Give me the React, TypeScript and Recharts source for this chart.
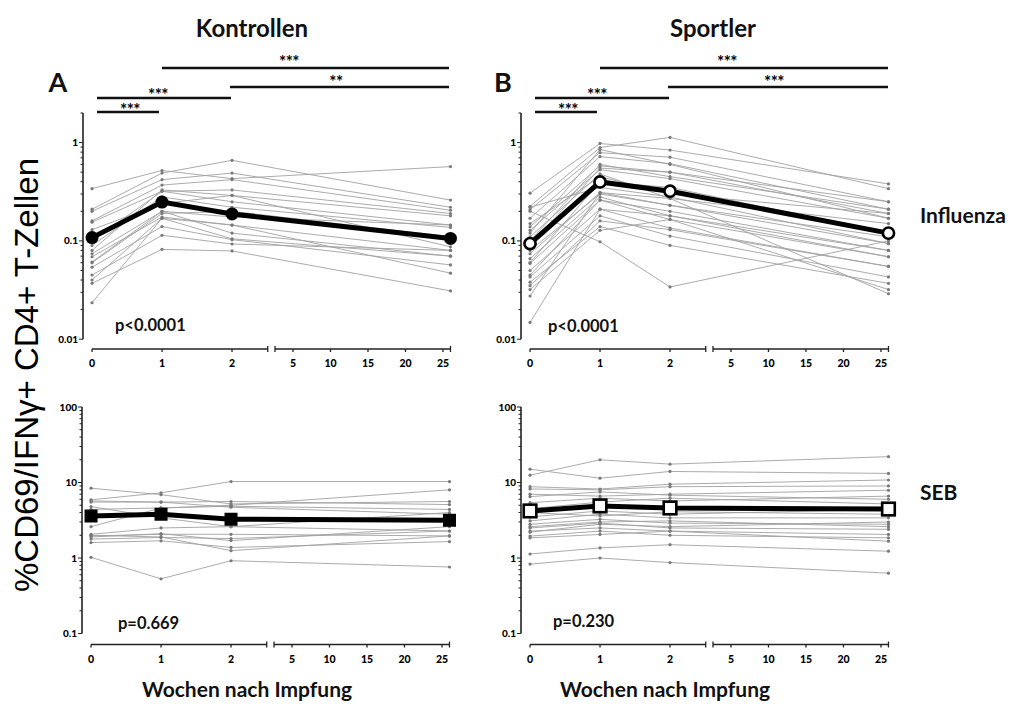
import React from 'react';
import { LineChart, Line, XAxis, YAxis, ReferenceLine, ReferenceArea } from 'recharts';

// weeks after vaccination at which samples were taken
const WEEKS = [0, 1, 2, 26];
const WEEK_TICKS = [0, 1, 2, 5, 10, 15, 20, 25];

// mean curves
const MEAN_CTRL_FLU = [0.108, 0.248, 0.188, 0.106];
const MEAN_ATH_FLU = [0.094, 0.398, 0.32, 0.12];
const MEAN_CTRL_SEB = [3.6, 3.8, 3.26, 3.16];
const MEAN_ATH_SEB = [4.2, 4.9, 4.6, 4.45];

// individual subjects, one row per person: [w0, w1, w2, w26]
const CTRL_FLU = [
  [0.34, 0.52, 0.43, 0.57],
  [0.21, 0.49, 0.66, 0.26],
  [0.2, 0.42, 0.49, 0.22],
  [0.16, 0.37, 0.42, 0.205],
  [0.155, 0.32, 0.33, 0.19],
  [0.13, 0.24, 0.29, 0.18],
  [0.1, 0.32, 0.25, 0.145],
  [0.09, 0.28, 0.22, 0.137],
  [0.08, 0.33, 0.29, 0.087],
  [0.074, 0.2, 0.175, 0.145],
  [0.069, 0.175, 0.145, 0.08],
  [0.061, 0.2, 0.12, 0.07],
  [0.054, 0.14, 0.103, 0.057],
  [0.045, 0.114, 0.093, 0.08],
  [0.04, 0.17, 0.145, 0.047],
  [0.037, 0.082, 0.079, 0.031],
  [0.0235, 0.17, 0.105, 0.07],
  [0.06, 0.19, 0.2, 0.11],
];

const ATH_FLU = [
  [0.306, 0.98, 0.84, 0.38],
  [0.225, 0.89, 1.13, 0.34],
  [0.208, 0.79, 0.71, 0.25],
  [0.17, 0.72, 0.61, 0.21],
  [0.139, 0.58, 0.5, 0.19],
  [0.128, 0.53, 0.43, 0.17],
  [0.11, 0.48, 0.27, 0.15],
  [0.074, 0.31, 0.23, 0.094],
  [0.066, 0.28, 0.18, 0.08],
  [0.059, 0.26, 0.165, 0.069],
  [0.05, 0.21, 0.135, 0.055],
  [0.043, 0.18, 0.112, 0.043],
  [0.038, 0.14, 0.09, 0.037],
  [0.032, 0.128, 0.165, 0.032],
  [0.0275, 0.31, 0.27, 0.029],
  [0.0148, 0.21, 0.18, 0.069],
  [0.2, 0.098, 0.034, 0.1],
  [0.09, 0.55, 0.5, 0.25],
  [0.06, 0.4, 0.35, 0.12],
  [0.15, 0.45, 0.3, 0.19],
  [0.08, 0.3, 0.23, 0.11],
  [0.1, 0.6, 0.45, 0.21],
  [0.045, 0.26, 0.2, 0.08],
  [0.12, 0.85, 0.6, 0.17],
  [0.035, 0.16, 0.13, 0.055],
  [0.22, 0.35, 0.28, 0.094],
];

const CTRL_SEB = [
  [8.4, 6.9, 5.2, 5.6],
  [5.9, 7.3, 10.3, 10.3],
  [5.5, 5.5, 5.6, 5.1],
  [4.4, 4.6, 4.85, 4.4],
  [2.6, 4.6, 5.0, 8.0],
  [2.06, 2.5, 2.6, 2.28],
  [1.96, 2.06, 2.06, 1.96],
  [1.78, 1.87, 1.81, 2.28],
  [1.6, 1.69, 1.38, 1.65],
  [1.02, 0.53, 0.92, 0.76],
  [2.0, 1.9, 1.25, 1.96],
  [5.7, 5.5, 4.7, 3.8],
  [1.9, 2.1, 1.7, 2.6],
  [4.8, 3.4, 2.6, 4.0],
];

const ATH_SEB = [
  [15, 11.4, 14, 13.2],
  [12.5, 20, 17.5, 22],
  [8.8, 8.2, 9.5, 10.8],
  [8.2, 8.0, 8.8, 9.0],
  [7, 6.6, 7, 7.9],
  [5.4, 6.2, 5.7, 6.6],
  [3.1, 3.8, 3.4, 3.4],
  [2.8, 3.25, 2.9, 2.8],
  [2.5, 2.9, 2.5, 2.4],
  [2.27, 2.5, 2.27, 2.05],
  [1.95, 2.27, 2.0, 1.85],
  [1.85, 2.05, 2.27, 1.67],
  [1.13, 1.36, 1.5, 1.23],
  [0.83, 1.0, 0.87, 0.63],
  [4.5, 5.5, 6.2, 5.2],
  [3.5, 4.2, 3.8, 4.4],
  [2.6, 3.0, 3.1, 2.6],
  [6.5, 7.5, 6.8, 6.0],
  [2.2, 2.8, 2.6, 3.0],
  [4.0, 3.6, 4.1, 3.8],
];

const FLU_Y_TICKS = [
  0.01, 0.02, 0.03, 0.04, 0.05, 0.06, 0.07, 0.08, 0.09,
  0.1, 0.2, 0.3, 0.4, 0.5, 0.6, 0.7, 0.8, 0.9,
  1, 2,
];
const SEB_Y_TICKS = [
  0.1, 0.2, 0.3, 0.4, 0.5, 0.6, 0.7, 0.8, 0.9,
  1, 2, 3, 4, 5, 6, 7, 8, 9,
  10, 20, 30, 40, 50, 60, 70, 80, 90,
  100,
];

// broken x axis: weeks 0-2 at full scale, then 5-26 compressed
const BREAK_FROM = 2.51;
const BREAK_TO = 2.614;
const LATE_ORIGIN = 2.871;
const LATE_SCALE = 0.10714;
const toPos = (w: number) => (w <= 2.5 ? w : LATE_ORIGIN + (w - 5) * LATE_SCALE);
const X_DOMAIN = [-0.129, 5.257];
const X_TICKS = [...WEEK_TICKS.map(toPos), BREAK_FROM, BREAK_TO, toPos(26)];

const FONT = 'Lato, "Open Sans", sans-serif';
const TOP_PAD = 10;

const YTick = (props: any) => {
  const { x, y, payload } = props;
  const v = payload.value;
  const lg = Math.log10(v);
  const major = Math.abs(lg - Math.round(lg)) < 1e-6;
  return (
    <g>
      <line x1={x - (major ? 4 : 2.5)} x2={x} y1={y} y2={y} stroke="#222" strokeWidth={1} />
      {major && (
        <text x={x - 5} y={y + 3.5} textAnchor="end" fontSize={10} fontWeight={900} fill="#000" fontFamily={FONT}>
          {String(v)}
        </text>
      )}
    </g>
  );
};

const XTick = (props: any) => {
  const { x, y, payload } = props;
  const label = WEEK_TICKS.find((w) => Math.abs(toPos(w) - payload.value) < 1e-6);
  return (
    <g>
      <line x1={x} x2={x} y1={y - (label === undefined ? 3 : 0)} y2={y + 3} stroke="#222" strokeWidth={1.3} />
      {label !== undefined && (
        <text x={x} y={y + 18} textAnchor="middle" fontSize={10.5} fontWeight={900} fill="#000" fontFamily={FONT}>
          {label}
        </text>
      )}
    </g>
  );
};

const filledSquare = (p: any) => (
  <rect key={p.index} x={p.cx - 6.5} y={p.cy - 6.5} width={13} height={13} fill="#000" />
);
const openSquare = (p: any) => (
  <rect key={p.index} x={p.cx - 6.3} y={p.cy - 6.3} width={12.6} height={12.6} fill="#fff" stroke="#000" strokeWidth={2.6} />
);

interface PanelProps {
  left: number;
  top: number;
  plotH: number;
  subjects: number[][];
  mean: number[];
  yDomain: number[];
  yTicks: number[];
  yAxisTop: number;
  yAxisBottom: number;
  marker: any;
}

function Panel({ left, top, plotH, subjects, mean, yDomain, yTicks, yAxisTop, yAxisBottom, marker }: PanelProps) {
  const data = WEEKS.map((w, i) => {
    const row: Record<string, number> = { x: toPos(w), mean: mean[i] };
    subjects.forEach((s, k) => {
      row['s' + k] = s[i];
    });
    return row;
  });
  const yMin = yDomain[0];
  return (
    <div style={{ position: 'absolute', left, top: top - TOP_PAD }}>
      <LineChart width={429} height={plotH + 26 + TOP_PAD} data={data} margin={{ top: TOP_PAD, right: 12, left: 0, bottom: 0 }}>
        <XAxis
          type="number"
          dataKey="x"
          domain={X_DOMAIN}
          ticks={X_TICKS}
          interval={0}
          tick={XTick}
          axisLine={false}
          tickLine={false}
          tickSize={0}
          tickMargin={0}
          height={26}
          allowDataOverflow
        />
        <YAxis
          type="number"
          scale="log"
          domain={yDomain}
          ticks={yTicks}
          interval={0}
          tick={YTick}
          axisLine={false}
          tickLine={false}
          tickSize={0}
          tickMargin={0}
          width={40}
          allowDataOverflow
        />
        {subjects.map((_, k) => (
          <Line
            key={k}
            dataKey={'s' + k}
            stroke="#a2a2a2"
            strokeWidth={0.9}
            dot={{ r: 1.6, fill: '#7a7a7a', stroke: 'none' }}
            isAnimationActive={false}
          />
        ))}
        <ReferenceArea x1={BREAK_FROM} x2={BREAK_TO} fill="#fff" fillOpacity={1} stroke="none" ifOverflow="visible" />
        <ReferenceLine
          segment={[{ x: toPos(0), y: yMin }, { x: BREAK_FROM, y: yMin }]}
          stroke="#222"
          strokeWidth={1.6}
          ifOverflow="visible"
        />
        <ReferenceLine
          segment={[{ x: BREAK_TO, y: yMin }, { x: toPos(26), y: yMin }]}
          stroke="#222"
          strokeWidth={1.6}
          ifOverflow="visible"
        />
        <ReferenceLine
          segment={[{ x: X_DOMAIN[0], y: yAxisBottom }, { x: X_DOMAIN[0], y: yAxisTop }]}
          stroke="#222"
          strokeWidth={1.6}
          ifOverflow="visible"
        />
        <Line dataKey="mean" stroke="#000" strokeWidth={5} dot={marker} isAnimationActive={false} />
      </LineChart>
    </div>
  );
}

const bold = { fontFamily: FONT, fontWeight: 700, fill: '#111' } as const;

function Bracket({ x1, x2, y, label, lx, ly }: { x1: number; x2: number; y: number; label: string; lx: number; ly: number }) {
  return (
    <g>
      <line x1={x1} x2={x2} y1={y} y2={y} stroke="#111" strokeWidth={2.6} />
      <text x={lx} y={ly + 10} textAnchor="middle" fontSize={17} letterSpacing={-0.5} {...bold} fill="#000">
        {label}
      </text>
    </g>
  );
}

export default function App() {
  return (
    <div style={{ position: 'absolute', left: 0, top: 0, width: 1025, height: 704, background: '#fff' }}>
      <Panel
        left={43}
        top={113}
        plotH={236}
        subjects={CTRL_FLU}
        mean={MEAN_CTRL_FLU}
        yDomain={[0.00795, 2]}
        yTicks={FLU_Y_TICKS}
        yAxisTop={2}
        yAxisBottom={0.01}
        marker={{ r: 6.5, fill: '#000', stroke: '#000', strokeWidth: 0 }}
      />
      <Panel
        left={481}
        top={113}
        plotH={236}
        subjects={ATH_FLU}
        mean={MEAN_ATH_FLU}
        yDomain={[0.00795, 2]}
        yTicks={FLU_Y_TICKS}
        yAxisTop={2}
        yAxisBottom={0.01}
        marker={{ r: 5.6, fill: '#fff', stroke: '#000', strokeWidth: 2.6 }}
      />
      <Panel
        left={42}
        top={406.5}
        plotH={237.5}
        subjects={CTRL_SEB}
        mean={MEAN_CTRL_SEB}
        yDomain={[0.0715, 100]}
        yTicks={SEB_Y_TICKS}
        yAxisTop={100}
        yAxisBottom={0.1}
        marker={filledSquare}
      />
      <Panel
        left={481}
        top={406.5}
        plotH={237.5}
        subjects={ATH_SEB}
        mean={MEAN_ATH_SEB}
        yDomain={[0.0715, 100]}
        yTicks={SEB_Y_TICKS}
        yAxisTop={100}
        yAxisBottom={0.1}
        marker={openSquare}
      />
      <svg width={1025} height={704} style={{ position: 'absolute', left: 0, top: 0, pointerEvents: 'none' }}>
        <text x={252} y={36.5} textAnchor="middle" fontSize={24} {...bold}>Kontrollen</text>
        <text x={713} y={36.5} textAnchor="middle" fontSize={24} {...bold}>Sportler</text>
        <text x={58} y={92} textAnchor="middle" fontSize={27} {...bold}>A</text>
        <text x={503} y={92} textAnchor="middle" fontSize={27} {...bold}>B</text>

        <Bracket x1={97} x2={159} y={112} label="***" lx={130} ly={106} />
        <Bracket x1={97} x2={231} y={98} label="***" lx={158} ly={91} />
        <Bracket x1={230} x2={449} y={87} label="**" lx={336} ly={78} />
        <Bracket x1={162} x2={449} y={68} label="***" lx={289} ly={58} />

        <Bracket x1={535} x2={597} y={112} label="***" lx={568} ly={106} />
        <Bracket x1={535} x2={669} y={98} label="***" lx={597} ly={91} />
        <Bracket x1={668} x2={888} y={87} label="***" lx={774} ly={78} />
        <Bracket x1={600} x2={888} y={68} label="***" lx={727} ly={58} />

        <text x={115} y={331} fontSize={16.5} {...bold}>p&lt;0.0001</text>
        <text x={548} y={332} fontSize={16.5} {...bold}>p&lt;0.0001</text>
        <text x={118} y={629} fontSize={16.5} {...bold}>p=0.669</text>
        <text x={553} y={627} fontSize={16.5} {...bold}>p=0.230</text>

        <text x={920} y={223} fontSize={21} {...bold}>Influenza</text>
        <text x={920} y={500} fontSize={21} {...bold}>SEB</text>

        <text x={247} y={697} textAnchor="middle" fontSize={21} {...bold}>Wochen nach Impfung</text>
        <text x={665} y={697} textAnchor="middle" fontSize={21} {...bold}>Wochen nach Impfung</text>

        <text
          x={26}
          y={375}
          transform="rotate(-90 26 375)"
          textAnchor="middle"
          dominantBaseline="central"
          fontSize={33}
          fontFamily='"Liberation Sans", Arial, sans-serif'
          fill="#000"
        >
          %CD69/IFNγ+ CD4+ T-Zellen
        </text>
      </svg>
    </div>
  );
}
